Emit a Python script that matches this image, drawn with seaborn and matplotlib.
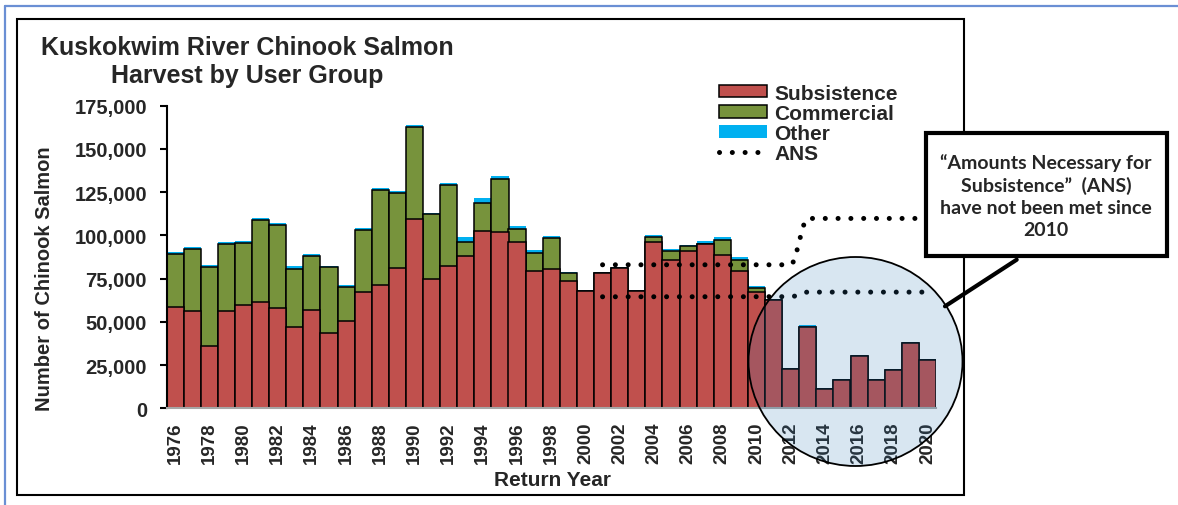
import numpy as np
import pandas as pd
import matplotlib
matplotlib.use("Agg")
import matplotlib.pyplot as plt
import seaborn as sns
from matplotlib.patches import Patch, Rectangle, Ellipse
from matplotlib.lines import Line2D
from matplotlib.ticker import FuncFormatter

# ---------------- data ----------------
years = list(range(1976, 2021))
subsistence = [58400, 56400, 36200, 56400, 59900, 61300, 58000, 47200, 57000, 43700,
               50700, 67100, 71100, 81300, 109500, 74600, 82500, 87900, 102400, 101800,
               96400, 79200, 80700, 73600, 67800, 78200, 81000, 67800, 96400, 85900,
               90800, 95000, 88800, 79600, 67100, 62600, 22700, 47200, 11300, 16500,
               30400, 16400, 22200, 37900, 27800]
commercial = [30800, 35700, 45300, 38400, 35500, 47600, 48000, 33400, 31200, 37800,
              19700, 36200, 55300, 43000, 53400, 37800, 46800, 8300, 16400, 30800,
              7200, 10800, 17700, 4800, 0, 0, 0, 0, 2500, 4900,
              2900, 0, 8500, 6400, 2600, 0, 0, 0, 0, 0,
              0, 0, 0, 0, 0]
other = [1000, 1000, 1500, 1500, 1300, 1300, 1200, 1500, 800, 600,
         800, 800, 1000, 1500, 1000, 750, 1150, 3000, 3000, 1500,
         1900, 1400, 1300, 500, 750, 750, 700, 750, 1500, 1150,
         900, 1700, 1500, 1700, 800, 650, 700, 700, 650, 700,
         700, 700, 700, 700, 700]
ans_years = list(range(2001, 2021))
ans_low = [64500, 64500, 64500, 64500, 64500, 64500, 64500, 64500, 64500, 64500,
           64500, 64500, 67200, 67200, 67200, 67200, 67200, 67200, 67200, 67200]
ans_high = [83000, 83000, 83000, 83000, 83000, 83000, 83000, 83000, 83000, 83000,
            83000, 83000, 109800, 109800, 109800, 109800, 109800, 109800, 109800, 109800]
series_names = ["Subsistence", "Commercial", "Other", "ANS"]
title_lines = ["Kuskokwim River Chinook Salmon", "Harvest by User Group"]
callout_text = "\u201cAmounts Necessary for\nSubsistence\u201d  (ANS)\nhave not been met since\n2010"

# ---------------- style ----------------
sns.set_style("white")
plt.rcParams["font.family"] = ["Liberation Sans", "DejaVu Sans"]
plt.rcParams["font.weight"] = "bold"

RED, GREEN, BLUE = "#C0504D", "#77933C", "#00B0F0"
W, H = 1178, 506


def fx(x):
    return x / W


def fy(y):
    return 1 - y / H


fig = plt.figure(figsize=(W / 100, H / 100), dpi=100)
ax = fig.add_axes([fx(166.5), fy(409.3), (936 - 166.5) / W, 302.6 / H])

df = pd.DataFrame({"year": [str(y) for y in years],
                   "sub": subsistence, "com": commercial, "oth": other})
df["sc"] = df["sub"] + df["com"]
df["tot"] = df["sc"] + df["oth"]
order = df["year"].tolist()

sns.barplot(data=df, x="year", y="tot", order=order, color=BLUE, width=1.0,
            linewidth=0, saturation=1, errorbar=None, ax=ax)
sns.barplot(data=df, x="year", y="sc", order=order, color=GREEN, width=1.0,
            edgecolor="black", linewidth=1.1, saturation=1, errorbar=None, ax=ax)
sns.barplot(data=df, x="year", y="sub", order=order, color=RED, width=1.0,
            edgecolor="black", linewidth=1.1, saturation=1, errorbar=None, ax=ax)


# smooth monotone (Hermite) rendering of the ANS lines
def smooth_path(xs, ys, n=24):
    xs = np.asarray(xs, float)
    ys = np.asarray(ys, float)
    d = np.diff(ys) / np.diff(xs)
    m = np.zeros_like(ys)
    for i in range(1, len(ys) - 1):
        if d[i - 1] * d[i] > 0:
            m[i] = 2 / (1 / d[i - 1] + 1 / d[i])
    out_x, out_y = [], []
    t = np.linspace(0, 1, n)
    h00 = 2 * t ** 3 - 3 * t ** 2 + 1
    h10 = t ** 3 - 2 * t ** 2 + t
    h01 = -2 * t ** 3 + 3 * t ** 2
    h11 = t ** 3 - t ** 2
    for i in range(len(xs) - 1):
        hx = xs[i + 1] - xs[i]
        sx = xs[i] + t * hx
        sy = h00 * ys[i] + h10 * hx * m[i] + h01 * ys[i + 1] + h11 * hx * m[i + 1]
        k = 0 if i == 0 else 1
        out_x.extend(sx[k:])
        out_y.extend(sy[k:])
    return np.array(out_x), np.array(out_y)


ans_pos = [years.index(y) for y in ans_years]
dot_style = dict(color="black", lw=3.6, linestyle=(0, (0.01, 2.55)),
                 dash_capstyle="round", zorder=6)
for vals in (ans_high, ans_low):
    sx, sy = smooth_path(ans_pos, vals)
    ax.plot(sx, sy, **dot_style)

ax.set_xlim(-0.5, len(years) - 0.5)
ax.set_ylim(0, 175000)
ax.set_yticks(np.arange(0, 175001, 25000))
ax.yaxis.set_major_formatter(FuncFormatter(lambda v, p: f"{int(v):,}"))
ax.set_xticks(range(0, len(years), 2))
ax.set_xticklabels([str(y) for y in years[::2]], rotation=90)
ax.set_xticks(np.arange(-0.5, len(years), 1), minor=True)
ax.tick_params(axis="x", which="major", length=0, pad=9.5, labelsize=13.5)
ax.tick_params(axis="x", which="minor", length=5, width=1.2, color="#A6A6A6")
ax.tick_params(axis="y", which="major", length=5, width=1.5, color="black",
               pad=9, labelsize=14.5, left=True)
for lab in ax.get_xticklabels() + ax.get_yticklabels():
    lab.set_fontweight("bold")
ax.set_xlabel("")
ax.set_ylabel("")
for s in ("top", "right"):
    ax.spines[s].set_visible(False)
ax.spines["left"].set_color("black")
ax.spines["left"].set_linewidth(1.5)
ax.spines["bottom"].set_color("#A6A6A6")
ax.spines["bottom"].set_linewidth(1.5)
ax.set_facecolor("none")

# titles / labels
fig.text(fx(247.5), fy(48), title_lines[0], ha="center", va="center",
         fontsize=18, fontweight="bold")
fig.text(fx(247.5), fy(76.5), title_lines[1], ha="center", va="center",
         fontsize=18, fontweight="bold")
fig.text(fx(45), fy(279), "Number of Chinook Salmon", rotation=90,
         ha="center", va="center", fontsize=14.5, fontweight="bold")
fig.text(fx(553), fy(481), "Return Year", ha="center", va="center",
         fontsize=15, fontweight="bold")

# legend
handles = [Patch(facecolor=RED, edgecolor="black", linewidth=1.1),
           Patch(facecolor=GREEN, edgecolor="black", linewidth=1.1),
           Patch(facecolor=BLUE, edgecolor="none"),
           Line2D([], [], **{k: v for k, v in dot_style.items() if k != "zorder"})]
fig.legend(handles, series_names, loc="upper left", bbox_to_anchor=(fx(719), fy(84.5)),
           frameon=False, handlelength=2.3, handleheight=0.55,
           labelspacing=0.06, handletextpad=0.35, borderaxespad=0, borderpad=0,
           prop={"weight": "bold", "size": 15})

# frames
fig.add_artist(Rectangle((fx(17), fy(496)), (964 - 17) / W, (496 - 20) / H,
                         transform=fig.transFigure, fill=False, edgecolor="black",
                         linewidth=1.5, zorder=1))
fig.add_artist(Line2D([fx(5), fx(5)], [fy(7), fy(506)], transform=fig.transFigure,
                      color="#6A8FD4", lw=1.6, zorder=1))
fig.add_artist(Line2D([fx(5), fx(1178)], [fy(7), fy(7)], transform=fig.transFigure,
                      color="#6A8FD4", lw=1.6, zorder=1))

# highlight circle
fig.add_artist(Ellipse((fx(855.5), fy(362.5)), 214 / W, 209 / H, transform=fig.transFigure,
                       facecolor=(43 / 255, 118 / 255, 180 / 255, 0.18),
                       edgecolor="black", linewidth=1.3, zorder=7))
# pointer line
fig.add_artist(Line2D([fx(1016.7), fx(945)], [fy(260.7), fy(307.3)],
                      transform=fig.transFigure, color="black", lw=3, zorder=8))
# callout box
fig.add_artist(Rectangle((fx(926), fy(257.3)), (1166.7 - 926) / W, (257.3 - 134) / H,
                         transform=fig.transFigure, facecolor="white",
                         edgecolor="black", linewidth=3, zorder=9))
fig.text(fx(1046), fy(196.5), callout_text, ha="center", va="center",
         multialignment="center", fontsize=14, fontweight="bold",
         family=["Lato", "DejaVu Sans"], linespacing=1.36, zorder=10)

fig.savefig("out.png", dpi=100)
